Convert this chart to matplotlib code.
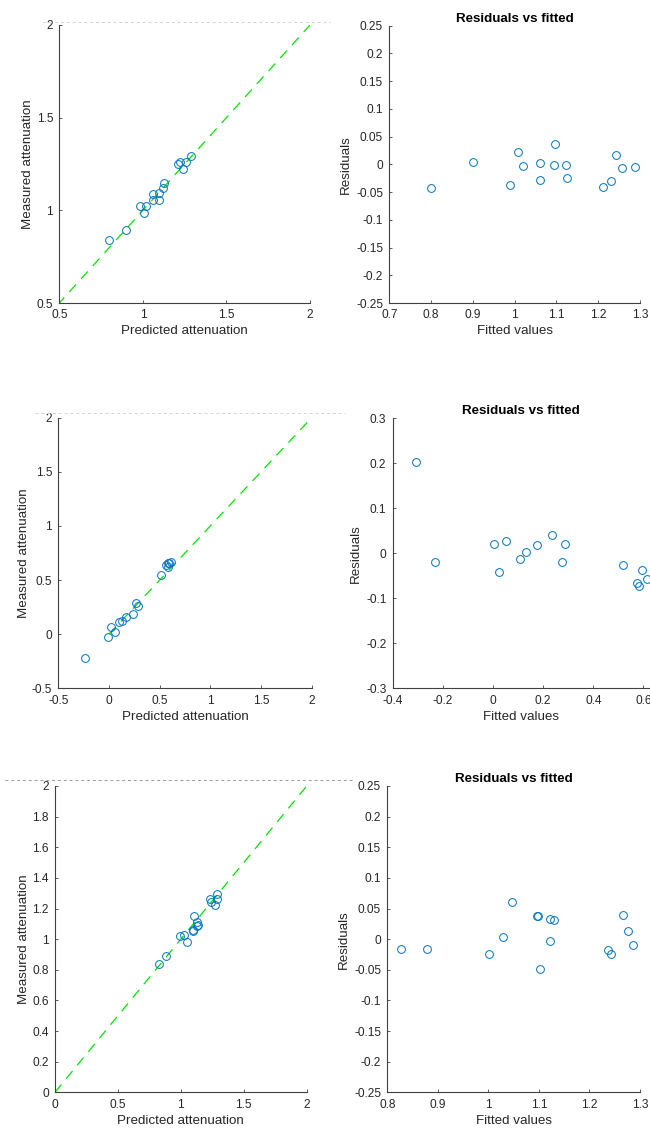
import matplotlib.pyplot as plt
from matplotlib.lines import Line2D

plt.rcParams['font.family'] = ['Liberation Sans', 'DejaVu Sans']

# model 1
pred1 = [0.797, 0.899, 0.985, 1.005, 1.019, 1.059, 1.059, 1.094, 1.094, 1.122, 1.124, 1.208, 1.224, 1.242, 1.258, 1.286]
meas1 = [0.838, 0.892, 1.021, 0.983, 1.021, 1.087, 1.057, 1.057, 1.096, 1.123, 1.148, 1.251, 1.260, 1.224, 1.263, 1.292]
fit1 = [0.800, 0.900, 0.988, 1.007, 1.021, 1.061, 1.060, 1.094, 1.097, 1.122, 1.126, 1.212, 1.231, 1.243, 1.258, 1.289]
res1 = [-0.043, 0.005, -0.037, 0.0225, -0.0033, 0.0027, -0.028, -0.002, 0.037, -0.0003, -0.024, -0.0405, -0.030, 0.0165, -0.007, -0.005]

# model 2
pred2 = [-0.236, -0.005, 0.019, 0.055, 0.101, 0.127, 0.170, 0.233, 0.266, 0.283, 0.517, 0.564, 0.580, 0.580, 0.597, 0.607]
meas2 = [-0.217, -0.023, 0.064, 0.020, 0.113, 0.122, 0.156, 0.184, 0.291, 0.260, 0.544, 0.636, 0.654, 0.620, 0.660, 0.667]
fit2 = [-0.307, -0.231, 0.003, 0.024, 0.053, 0.108, 0.133, 0.174, 0.237, 0.275, 0.286, 0.520, 0.574, 0.581, 0.593, 0.613]
res2 = [0.202, -0.0185, 0.020, -0.042, 0.027, -0.0126, 0.0037, 0.0178, 0.040, -0.0185, 0.0215, -0.025, -0.065, -0.0726, -0.038, -0.057]

# model 3
pred3 = [0.829, 0.879, 0.996, 1.028, 1.049, 1.097, 1.099, 1.105, 1.126, 1.126, 1.134, 1.234, 1.240, 1.271, 1.285, 1.290]
meas3 = [0.838, 0.890, 1.021, 1.025, 0.981, 1.058, 1.055, 1.149, 1.112, 1.086, 1.090, 1.262, 1.245, 1.221, 1.260, 1.295]
fit3 = [0.827, 0.879, 1.001, 1.028, 1.047, 1.097, 1.099, 1.103, 1.121, 1.121, 1.129, 1.237, 1.243, 1.267, 1.276, 1.286]
res3 = [-0.0155, -0.0166, -0.024, 0.003, 0.0607, 0.037, 0.037, -0.048, -0.003, 0.033, 0.031, -0.017, -0.0237, 0.0394, 0.0133, -0.0095]

ref_line = [0, 2]

W, H = 650, 1136
blue = '#0072BD'
axcol = '#404040'

fig = plt.figure(figsize=(W / 100, H / 100), dpi=100)


def px_axes(x0, x1, ytop, ybot):
    return fig.add_axes([x0 / W, (H - ybot) / H, (x1 - x0) / W, (ybot - ytop) / H])


def style(ax):
    for s in ['top', 'right']:
        ax.spines[s].set_visible(False)
    for s in ['left', 'bottom']:
        ax.spines[s].set_color(axcol)
        ax.spines[s].set_linewidth(0.8)
    ax.tick_params(direction='in', length=2, width=0.6, color=axcol, labelsize=8.6,
                   labelcolor='#262626', pad=4.5)


def left_panel(ax, x, y, lim, ticks):
    ax.plot(ref_line, ref_line, color='#00e600', lw=0.9, dashes=(8, 6))
    ax.plot(x, y, 'o', mfc='none', mec=blue, ms=5.6, mew=0.7)
    ax.set_xlim(lim)
    ax.set_ylim(lim)
    ax.set_xticks(ticks)
    ax.set_yticks(ticks)
    ax.set_xticklabels([('%g' % t) for t in ticks])
    ax.set_yticklabels([('%g' % t) for t in ticks])
    ax.set_xlabel('Predicted attenuation', fontsize=9.6, color='#262626', labelpad=3)
    ax.set_ylabel('Measured attenuation', fontsize=9.6, color='#262626', labelpad=1.5)
    style(ax)


def right_panel(ax, x, y, xlim, xticks, ylim, yticks):
    ax.plot(x, y, 'o', mfc='none', mec=blue, ms=5.6, mew=0.7, clip_on=False)
    ax.set_xlim(xlim)
    ax.set_ylim(ylim)
    ax.set_xticks(xticks)
    ax.set_yticks(yticks)
    ax.set_xticklabels([('%g' % round(t, 2)) for t in xticks])
    ax.set_yticklabels([('%g' % round(t, 2)) for t in yticks])
    ax.set_xlabel('Fitted values', fontsize=9.6, color='#262626', labelpad=3)
    ax.set_ylabel('Residuals', fontsize=9.6, color='#262626', labelpad=3)
    ax.set_title('Residuals vs fitted', fontsize=9.6, fontweight='bold', pad=3)
    style(ax)


r025 = [-0.25, -0.2, -0.15, -0.1, -0.05, 0, 0.05, 0.1, 0.15, 0.2, 0.25]

ax = px_axes(59.3, 310, 25, 303)
left_panel(ax, pred1, meas1, (0.5, 2), [0.5, 1, 1.5, 2])
ax = px_axes(389.3, 640, 25.7, 303)
right_panel(ax, fit1, res1, (0.7, 1.3), [0.7, 0.8, 0.9, 1, 1.1, 1.2, 1.3], (-0.25, 0.25), r025)

ax = px_axes(58.3, 311.7, 417.7, 688.3)
left_panel(ax, pred2, meas2, (-0.5, 2), [-0.5, 0, 0.5, 1, 1.5, 2])
ax = px_axes(392.7, 648.5, 418.3, 688.3)
right_panel(ax, fit2, res2, (-0.4, 0.62), [-0.4, -0.2, 0, 0.2, 0.4, 0.6], (-0.3, 0.3),
            [-0.3, -0.2, -0.1, 0, 0.1, 0.2, 0.3])

ax = px_axes(55, 306.7, 786, 1092.3)
left_panel(ax, pred3, meas3, (0, 2), [0, 0.5, 1, 1.5, 2])
ax.set_yticks([0, 0.2, 0.4, 0.6, 0.8, 1, 1.2, 1.4, 1.6, 1.8, 2])
ax.set_yticklabels(['0', '0.2', '0.4', '0.6', '0.8', '1', '1.2', '1.4', '1.6', '1.8', '2'])
ax = px_axes(387.3, 640, 786, 1092.3)
right_panel(ax, fit3, res3, (0.8, 1.3), [0.8, 0.9, 1, 1.1, 1.2, 1.3], (-0.25, 0.25), r025)

# clipped-off titles of the left panels (only a faint sliver remains)
for x0, x1, yy, c in [(43, 330, 21.5, '#d2d2d2'), (35, 345, 413, '#d2d2d2'), (5, 355, 780, '#9a9a9a')]:
    fig.add_artist(Line2D([x0 / W, x1 / W], [(H - yy) / H, (H - yy) / H], color=c, lw=0.7,
                          dashes=(3, 3), transform=fig.transFigure))

fig.savefig('out.png', dpi=100)
